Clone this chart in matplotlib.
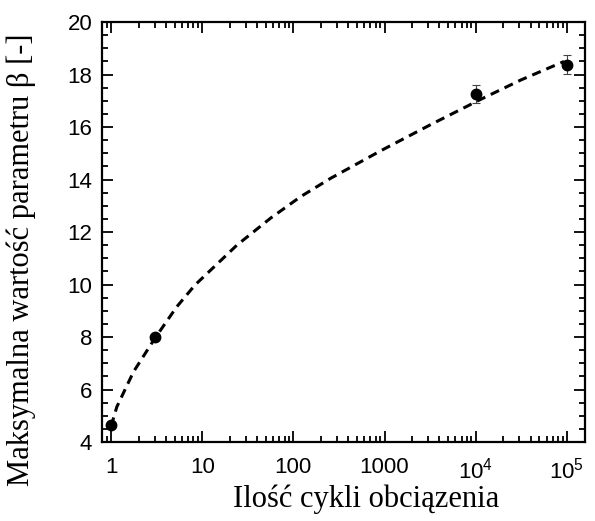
import matplotlib.pyplot as plt
from matplotlib.ticker import FixedLocator, LogLocator, MultipleLocator, NullFormatter

plt.rcParams['mathtext.fontset'] = 'custom'
plt.rcParams['mathtext.rm'] = 'Liberation Sans'
plt.rcParams['mathtext.it'] = 'Liberation Sans'

# measured points (cycles, beta, error)
cycles = [1, 3, 1e4, 1e5]
beta = [4.65, 8.0, 17.27, 18.38]
beta_err = [0.0, 0.0, 0.35, 0.37]

# fitted curve (log10 of cycles, beta)
curve_logn = [0.0, 0.063, 0.245, 0.48, 0.72, 0.92, 1.38, 1.75, 2.08, 2.41,
              2.96, 3.18, 3.51, 3.91, 4.01, 4.5, 4.97]
curve_beta = [4.6, 5.34, 6.67, 7.95, 9.15, 9.98, 11.5, 12.53, 13.35, 14.05,
              15.1, 15.5, 16.1, 16.8, 16.98, 17.8, 18.5]

xticks = [1, 10, 100, 1000, 1e4, 1e5]
xticklabels = ['1', '10', '100', '1000', '$10^4$', '$10^5$']

fig = plt.figure(figsize=(5.95, 5.21), dpi=100)
ax = fig.add_axes([0.1714, 0.1516, 0.8118, 0.806])

ax.plot([10 ** v for v in curve_logn], curve_beta, color='black', lw=2.2,
        linestyle=(0, (3.0, 2.0)))
ax.errorbar(cycles, beta, yerr=beta_err, fmt='o', color='black', ms=7.5,
            ecolor='#444444', elinewidth=0.8, capsize=3, capthick=0.8)

ax.set_xscale('log')
ax.set_xlim(10 ** -0.1, 10 ** 5.2)
ax.set_ylim(4, 20)

ax.xaxis.set_major_locator(FixedLocator(xticks))
ax.set_xticklabels(xticklabels)
ax.xaxis.set_minor_locator(LogLocator(base=10, subs=range(2, 10), numticks=20))
ax.xaxis.set_minor_formatter(NullFormatter())
ax.yaxis.set_major_locator(MultipleLocator(2))
ax.yaxis.set_minor_locator(MultipleLocator(0.5))

ax.tick_params(which='both', direction='in', top=True, right=True, width=1.3)
ax.tick_params(which='major', length=8, labelsize=16)
ax.tick_params(which='minor', length=4.5)
ax.tick_params(axis='x', which='major', pad=11)
ax.tick_params(axis='y', which='major', pad=7)
for lab in ax.get_xticklabels() + ax.get_yticklabels():
    lab.set_family('Liberation Sans')
for s in ax.spines.values():
    s.set_linewidth(1.6)

ax.set_xlabel('Ilość cykli obciązenia', family='Liberation Serif', fontsize=22)
ax.set_ylabel('Maksymalna wartość parametru β [-]', family='Liberation Serif', fontsize=22)
ax.xaxis.set_label_coords(0.547, -0.1)
ax.yaxis.set_label_coords(-0.137, 0.433)

fig.savefig('out.png', dpi=100)
